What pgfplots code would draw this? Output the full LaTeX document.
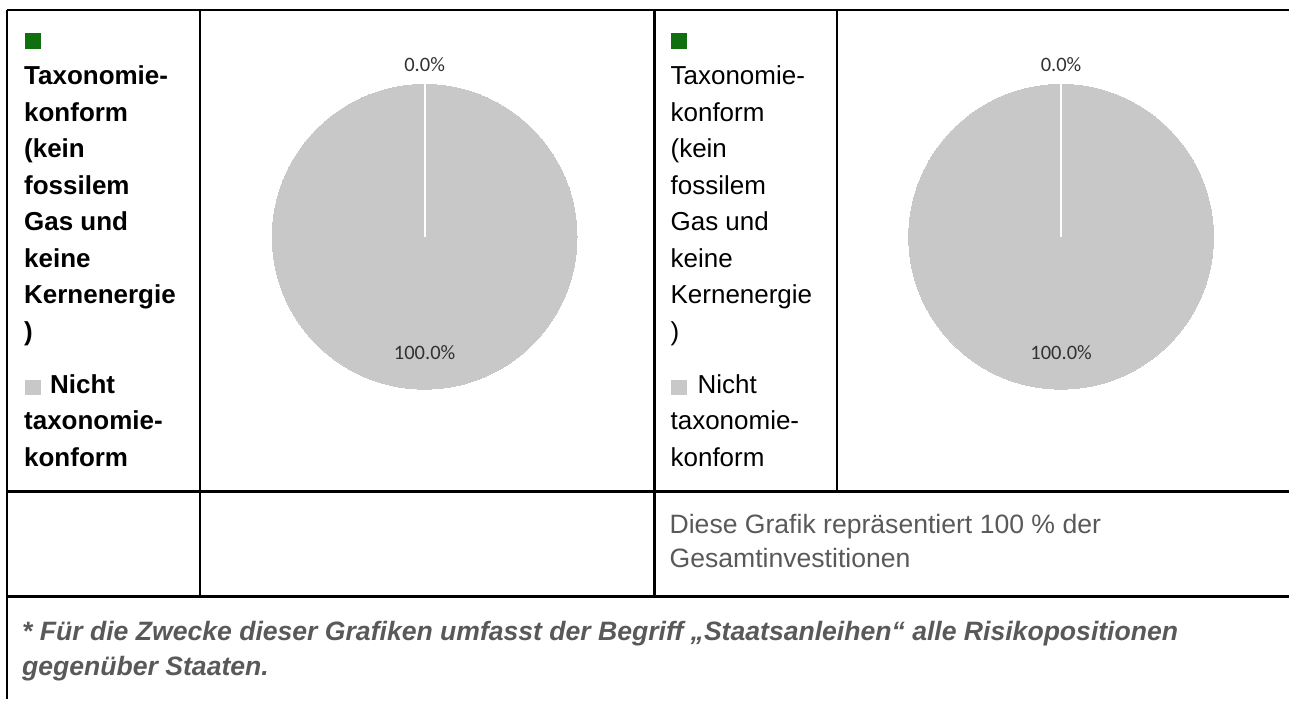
\documentclass[border=0pt]{standalone}
\usepackage{pgfplots}
\pgfplotsset{compat=1.18}
\usepackage{fontspec}
\setmainfont{Liberation Sans}
\newfontfamily\carlito{Carlito}
\definecolor{taxGreen}{RGB}{16,112,16}
\definecolor{pieGray}{RGB}{200,200,200}
\definecolor{txtGray}{RGB}{89,89,89}
\definecolor{lblGray}{RGB}{50,50,50}
\newcommand{\hfont}{\fontsize{26}{30}\selectfont}
\newcommand{\bt}[3]{\node[anchor=base west, inner sep=0pt, font=\hfont\bfseries] at (axis cs:#1,#2) {#3};}
\newcommand{\rt}[3]{\node[anchor=base west, inner sep=0pt, font=\hfont] at (axis cs:#1,#2) {#3};}
\begin{document}
\begin{tikzpicture}
\begin{axis}[width=1290pt, height=700pt, scale only axis,
  xmin=0, xmax=1290, ymin=0, ymax=700, y dir=reverse,
  hide axis, clip=false, set layers]
% bounding box
\path (axis cs:0,0) rectangle (axis cs:1290,700);
% pies: 0.0% Taxonomie-konform, 100.0% nicht taxonomie-konform
\addplot[pieGray, only marks, mark=*, mark size=152.5pt, mark options={fill=pieGray, draw=pieGray, line width=0pt}] coordinates {(425,237) (1062,237)};
\addplot[white, line width=2pt, on layer=axis foreground] coordinates {(425,237) (425,84)};
\addplot[white, line width=2pt, on layer=axis foreground] coordinates {(1062,237) (1062,84)};
% slice labels
\addplot[on layer=axis foreground, draw=none, mark=none, nodes near coords, point meta=explicit symbolic,
  every node near coord/.style={anchor=base, inner sep=0pt, font=\carlito\fontsize{20.5}{24}\selectfont, text=lblGray}]
  coordinates {(425,72) [0.0\%] (425,360) [100.0\%] (1062,72) [0.0\%] (1062,360) [100.0\%]};
% grid lines
\addplot[black, line width=2.2pt] coordinates {(7,10) (1290,10)};
\addplot[black, line width=2.2pt] coordinates {(7,492) (1290,492)};
\addplot[black, line width=2.2pt] coordinates {(7,597) (1290,597)};
\addplot[black, line width=2.2pt] coordinates {(7,10) (7,700)};
\addplot[black, line width=2.2pt] coordinates {(200,10) (200,597)};
\addplot[black, line width=2.2pt] coordinates {(655,10) (655,597)};
\addplot[black, line width=2.2pt] coordinates {(838,10) (838,492)};
% legend column 1 (bold)
\node[fill=taxGreen, minimum width=16pt, minimum height=16pt, inner sep=0pt] at (axis cs:33,41) {};
\node[fill=pieGray, minimum width=16pt, minimum height=15pt, inner sep=0pt] at (axis cs:33,388) {};
\bt{24}{85}{Taxonomie-}
\bt{24}{121.5}{konform}
\bt{24}{158}{(kein}
\bt{24}{194.5}{fossilem}
\bt{24}{231}{Gas und}
\bt{24}{267.5}{keine}
\bt{24}{304}{Kernenergie}
\bt{24}{340.5}{)}
\bt{50}{393.5}{Nicht}
\bt{24}{430}{taxonomie-}
\bt{24}{466.5}{konform}
% legend column 3 (regular)
\node[fill=taxGreen, minimum width=16pt, minimum height=16pt, inner sep=0pt] at (axis cs:680,41) {};
\node[fill=pieGray, minimum width=16pt, minimum height=15pt, inner sep=0pt] at (axis cs:680,388) {};
\rt{671}{85}{Taxonomie-}
\rt{671}{121.5}{konform}
\rt{671}{158}{(kein}
\rt{671}{194.5}{fossilem}
\rt{671}{231}{Gas und}
\rt{671}{267.5}{keine}
\rt{671}{304}{Kernenergie}
\rt{671}{340.5}{)}
\rt{698}{393.5}{Nicht}
\rt{671}{430}{taxonomie-}
\rt{671}{466.5}{konform}
% middle row
\node[anchor=base west, inner sep=0pt, font=\fontsize{26.6}{30}\selectfont, text=txtGray] at (axis cs:670,534) {Diese Grafik repräsentiert 100 \% der};
\node[anchor=base west, inner sep=0pt, font=\fontsize{26.6}{30}\selectfont, text=txtGray] at (axis cs:670,568) {Gesamtinvestitionen};
% footnote
\node[anchor=base west, inner sep=0pt, font=\fontsize{26.6}{30}\selectfont\bfseries\itshape, text=txtGray] at (axis cs:22,641) {* Für die Zwecke dieser Grafiken umfasst der Begriff „Staatsanleihen“ alle Risikopositionen};
\node[anchor=base west, inner sep=0pt, font=\fontsize{26.6}{30}\selectfont\bfseries\itshape, text=txtGray] at (axis cs:22,676) {gegenüber Staaten.};
\end{axis}
\end{tikzpicture}
\end{document}
